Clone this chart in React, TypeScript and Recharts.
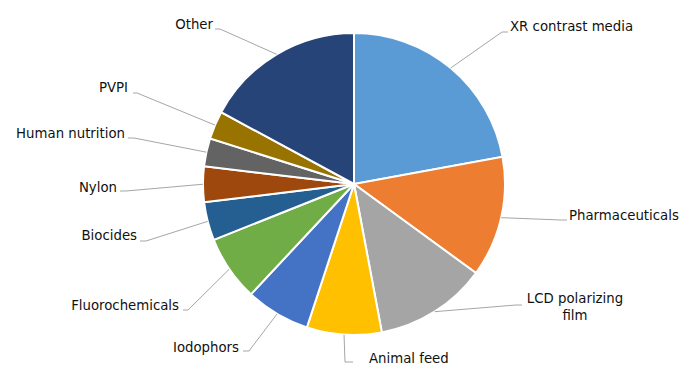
import { PieChart, Pie, Cell } from 'recharts'

const CATEGORIES = [
  'XR contrast media', 'Pharmaceuticals', 'LCD polarizing film', 'Animal feed',
  'Iodophors', 'Fluorochemicals', 'Biocides', 'Nylon', 'Human nutrition', 'PVPI', 'Other',
]
const SHARES = [22.1, 12.9, 12.0, 8.0, 6.9, 7.0, 4.1, 3.8, 3.0, 3.0, 17.1]
const COLORS = [
  '#5B9BD5', '#ED7D31', '#A5A5A5', '#FFC000', '#4472C4', '#70AD47',
  '#255E91', '#9E480E', '#636363', '#997300', '#264478',
]

const CX = 354
const CY = 184
const R = 151
const RAD = Math.PI / 180

// label layout, offsets from the pie centre: elbow x/y, line end x, text x, text y, anchor
const LABEL_POS: [number, number, number, number, number, 'start' | 'end' | 'middle'][] = [
  [148, -152, 154, 156, -158, 'start'],
  [207, 36, 213, 215, 31, 'start'],
  [162, 121, 168, 221, 114, 'middle'],
  [-9, 178, -1, 15, 174, 'start'],
  [-105, 167, -111, -115, 163, 'end'],
  [-166, 126, -171, -175, 121, 'end'],
  [-208, 57, -214, -217, 51, 'end'],
  [-228, 7, -234, -237, 3, 'end'],
  [-220, -46, -226, -229, -51, 'end'],
  [-217, -91, -221, -226, -97, 'end'],
  [-134, -155, -139, -141, -160, 'end'],
]

const data = CATEGORIES.map((name, i) => ({ name, value: SHARES[i] }))

const renderLabel = ({ cx, cy, midAngle, outerRadius, index, name }: any) => {
  const sx = cx + outerRadius * Math.cos(-midAngle * RAD)
  const sy = cy + outerRadius * Math.sin(-midAngle * RAD)
  const [bx, by, ex, tx, ty, anchor] = LABEL_POS[index]
  const lines = name === 'LCD polarizing film' ? ['LCD polarizing', 'film'] : [name]
  return (
    <g key={`lbl-${index}`}>
      <polyline
        points={`${sx},${sy} ${cx + bx},${cy + by} ${cx + ex},${cy + by}`}
        fill="none"
        stroke="#A6A6A6"
        strokeWidth={1}
      />
      <text
        x={cx + tx}
        y={cy + ty}
        textAnchor={anchor}
        dominantBaseline="central"
        fill="#111"
        fontSize={13.3}
        fontFamily="'DejaVu Sans', Verdana, sans-serif"
      >
        {lines.map((l, k) => (
          <tspan key={k} x={cx + tx} dy={k === 0 ? 0 : 17}>{l}</tspan>
        ))}
      </text>
    </g>
  )
}

export default function App() {
  return (
    <div style={{ position: 'absolute', left: 0, top: 0, width: 697, height: 372, background: '#fff' }}>
      <PieChart width={697} height={372} margin={{ top: 0, right: 0, bottom: 0, left: 0 }}>
        <Pie
          data={data}
          dataKey="value"
          nameKey="name"
          cx={CX}
          cy={CY}
          outerRadius={R}
          startAngle={90}
          endAngle={-270}
          stroke="#fff"
          strokeWidth={2}
          label={renderLabel}
          labelLine={false}
          isAnimationActive={false}
        >
          {data.map((d, i) => (
            <Cell key={d.name} fill={COLORS[i]} />
          ))}
        </Pie>
      </PieChart>
    </div>
  )
}
